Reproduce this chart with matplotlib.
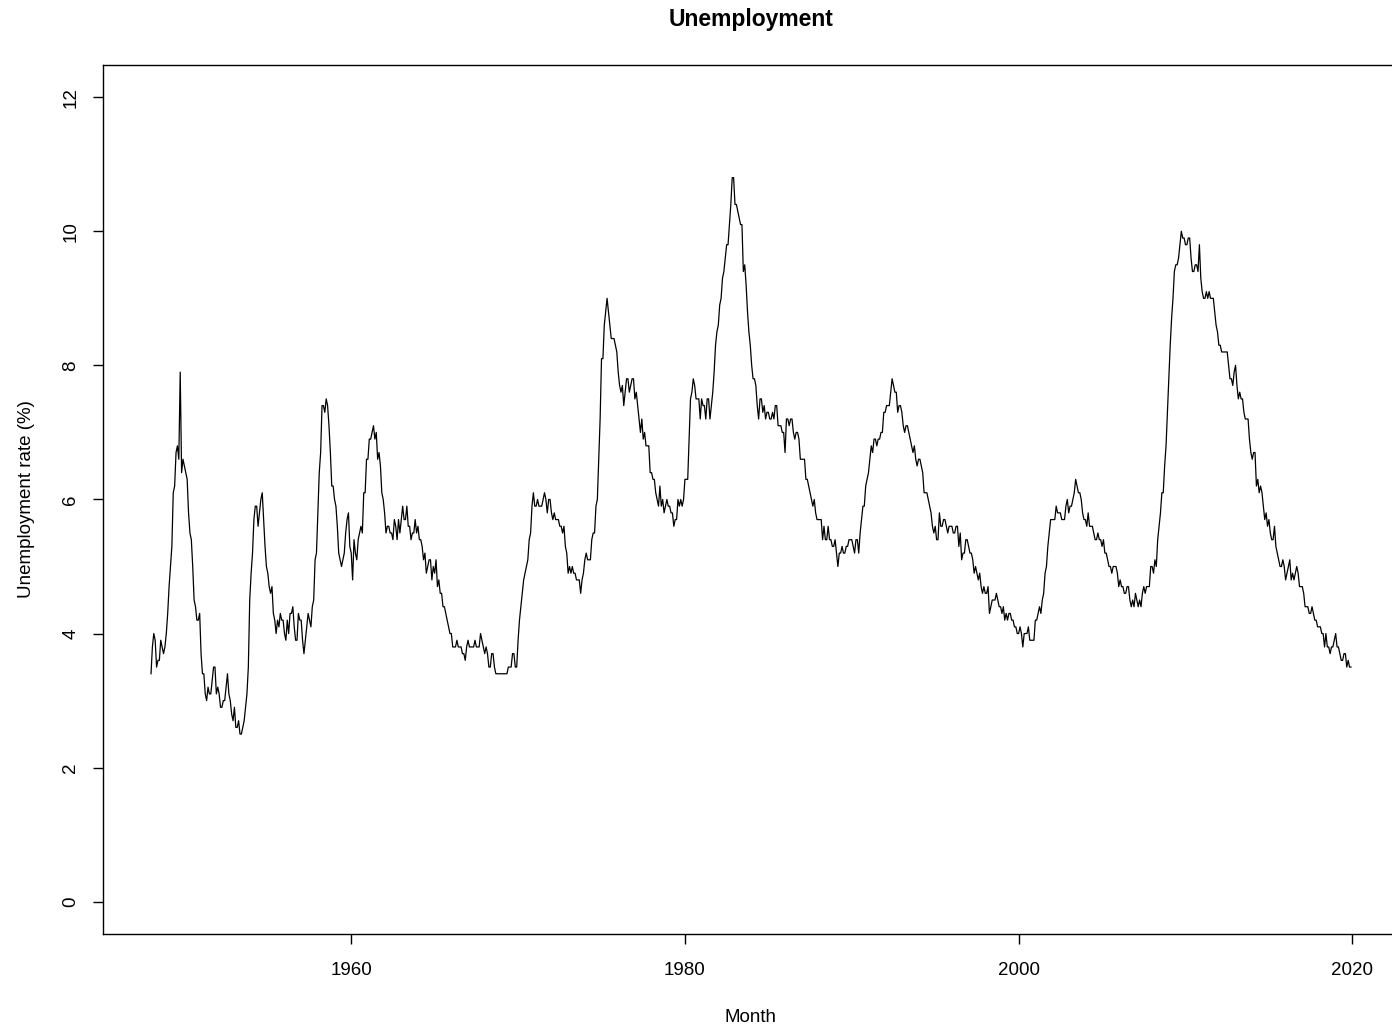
import numpy as np
import matplotlib.pyplot as plt

plt.rcParams['font.family'] = ['Liberation Sans', 'DejaVu Sans']

# monthly unemployment rate (%), Jan 1948 .. Dec 2019
rate_1940s = [
    3.4, 3.8, 4.0, 3.9, 3.5, 3.6, 3.6, 3.9, 3.8, 3.7, 3.8, 4.0,
    4.3, 4.7, 5.0, 5.3, 6.1, 6.2, 6.7, 6.8, 6.6, 7.9, 6.4, 6.6,
]
rate_1950s = [
    6.5, 6.4, 6.3, 5.8, 5.5, 5.4, 5.0, 4.5, 4.4, 4.2, 4.2, 4.3,
    3.7, 3.4, 3.4, 3.1, 3.0, 3.2, 3.1, 3.1, 3.3, 3.5, 3.5, 3.1,
    3.2, 3.1, 2.9, 2.9, 3.0, 3.0, 3.2, 3.4, 3.1, 3.0, 2.8, 2.7,
    2.9, 2.6, 2.6, 2.7, 2.5, 2.5, 2.6, 2.7, 2.9, 3.1, 3.5, 4.5,
    4.9, 5.2, 5.7, 5.9, 5.9, 5.6, 5.8, 6.0, 6.1, 5.7, 5.3, 5.0,
    4.9, 4.7, 4.6, 4.7, 4.3, 4.2, 4.0, 4.2, 4.1, 4.3, 4.2, 4.2,
    4.0, 3.9, 4.2, 4.0, 4.3, 4.3, 4.4, 4.1, 3.9, 3.9, 4.3, 4.2,
    4.2, 3.9, 3.7, 3.9, 4.1, 4.3, 4.2, 4.1, 4.4, 4.5, 5.1, 5.2,
    5.8, 6.4, 6.7, 7.4, 7.4, 7.3, 7.5, 7.4, 7.1, 6.7, 6.2, 6.2,
    6.0, 5.9, 5.6, 5.2, 5.1, 5.0, 5.1, 5.2, 5.5, 5.7, 5.8, 5.3,
]
rate_1960s = [
    5.2, 4.8, 5.4, 5.2, 5.1, 5.4, 5.5, 5.6, 5.5, 6.1, 6.1, 6.6,
    6.6, 6.9, 6.9, 7.0, 7.1, 6.9, 7.0, 6.6, 6.7, 6.5, 6.1, 6.0,
    5.8, 5.5, 5.6, 5.6, 5.5, 5.5, 5.4, 5.7, 5.6, 5.4, 5.7, 5.5,
    5.7, 5.9, 5.7, 5.7, 5.9, 5.6, 5.6, 5.4, 5.5, 5.5, 5.7, 5.5,
    5.6, 5.4, 5.4, 5.3, 5.1, 5.2, 4.9, 5.0, 5.1, 5.1, 4.8, 5.0,
    4.9, 5.1, 4.7, 4.8, 4.6, 4.6, 4.4, 4.4, 4.3, 4.2, 4.1, 4.0,
    4.0, 3.8, 3.8, 3.8, 3.9, 3.8, 3.8, 3.8, 3.7, 3.7, 3.6, 3.8,
    3.9, 3.8, 3.8, 3.8, 3.8, 3.9, 3.8, 3.8, 3.8, 4.0, 3.9, 3.8,
    3.7, 3.8, 3.7, 3.5, 3.5, 3.7, 3.7, 3.5, 3.4, 3.4, 3.4, 3.4,
    3.4, 3.4, 3.4, 3.4, 3.4, 3.5, 3.5, 3.5, 3.7, 3.7, 3.5, 3.5,
]
rate_1970s = [
    3.9, 4.2, 4.4, 4.6, 4.8, 4.9, 5.0, 5.1, 5.4, 5.5, 5.9, 6.1,
    5.9, 5.9, 6.0, 5.9, 5.9, 5.9, 6.0, 6.1, 6.0, 5.8, 6.0, 6.0,
    5.8, 5.7, 5.8, 5.7, 5.7, 5.7, 5.6, 5.6, 5.5, 5.6, 5.3, 5.2,
    4.9, 5.0, 4.9, 5.0, 4.9, 4.9, 4.8, 4.8, 4.8, 4.6, 4.8, 4.9,
    5.1, 5.2, 5.1, 5.1, 5.1, 5.4, 5.5, 5.5, 5.9, 6.0, 6.6, 7.2,
    8.1, 8.1, 8.6, 8.8, 9.0, 8.8, 8.6, 8.4, 8.4, 8.4, 8.3, 8.2,
    7.9, 7.7, 7.6, 7.7, 7.4, 7.6, 7.8, 7.8, 7.6, 7.7, 7.8, 7.8,
    7.5, 7.6, 7.4, 7.2, 7.0, 7.2, 6.9, 7.0, 6.8, 6.8, 6.8, 6.4,
    6.4, 6.3, 6.3, 6.1, 6.0, 5.9, 6.2, 5.9, 6.0, 5.8, 5.9, 6.0,
    5.9, 5.9, 5.8, 5.8, 5.6, 5.7, 5.7, 6.0, 5.9, 6.0, 5.9, 6.0,
]
rate_1980s = [
    6.3, 6.3, 6.3, 6.9, 7.5, 7.6, 7.8, 7.7, 7.5, 7.5, 7.5, 7.2,
    7.5, 7.4, 7.4, 7.2, 7.5, 7.5, 7.2, 7.4, 7.6, 7.9, 8.3, 8.5,
    8.6, 8.9, 9.0, 9.3, 9.4, 9.6, 9.8, 9.8, 10.1, 10.4, 10.8, 10.8,
    10.4, 10.4, 10.3, 10.2, 10.1, 10.1, 9.4, 9.5, 9.2, 8.8, 8.5, 8.3,
    8.0, 7.8, 7.8, 7.7, 7.4, 7.2, 7.5, 7.5, 7.3, 7.4, 7.2, 7.3,
    7.3, 7.2, 7.2, 7.3, 7.2, 7.4, 7.4, 7.1, 7.1, 7.1, 7.0, 7.0,
    6.7, 7.2, 7.2, 7.1, 7.2, 7.2, 7.0, 6.9, 7.0, 7.0, 6.9, 6.6,
    6.6, 6.6, 6.6, 6.3, 6.3, 6.2, 6.1, 6.0, 5.9, 6.0, 5.8, 5.7,
    5.7, 5.7, 5.7, 5.4, 5.6, 5.4, 5.4, 5.6, 5.4, 5.4, 5.3, 5.3,
    5.4, 5.2, 5.0, 5.2, 5.2, 5.3, 5.2, 5.2, 5.3, 5.3, 5.4, 5.4,
]
rate_1990s = [
    5.4, 5.3, 5.2, 5.4, 5.4, 5.2, 5.5, 5.7, 5.9, 5.9, 6.2, 6.3,
    6.4, 6.6, 6.8, 6.7, 6.9, 6.9, 6.8, 6.9, 6.9, 7.0, 7.0, 7.3,
    7.3, 7.4, 7.4, 7.4, 7.6, 7.8, 7.7, 7.6, 7.6, 7.3, 7.4, 7.4,
    7.3, 7.1, 7.0, 7.1, 7.1, 7.0, 6.9, 6.8, 6.7, 6.8, 6.6, 6.5,
    6.6, 6.6, 6.5, 6.4, 6.1, 6.1, 6.1, 6.0, 5.9, 5.8, 5.6, 5.5,
    5.6, 5.4, 5.4, 5.8, 5.6, 5.6, 5.7, 5.7, 5.6, 5.5, 5.6, 5.6,
    5.6, 5.5, 5.5, 5.6, 5.6, 5.3, 5.5, 5.1, 5.2, 5.2, 5.4, 5.4,
    5.3, 5.2, 5.2, 5.1, 4.9, 5.0, 4.9, 4.8, 4.9, 4.7, 4.6, 4.7,
    4.6, 4.6, 4.7, 4.3, 4.4, 4.5, 4.5, 4.5, 4.6, 4.5, 4.4, 4.4,
    4.3, 4.4, 4.2, 4.3, 4.2, 4.3, 4.3, 4.2, 4.2, 4.1, 4.1, 4.0,
]
rate_2000s = [
    4.0, 4.1, 4.0, 3.8, 4.0, 4.0, 4.0, 4.1, 3.9, 3.9, 3.9, 3.9,
    4.2, 4.2, 4.3, 4.4, 4.3, 4.5, 4.6, 4.9, 5.0, 5.3, 5.5, 5.7,
    5.7, 5.7, 5.7, 5.9, 5.8, 5.8, 5.8, 5.7, 5.7, 5.7, 5.9, 6.0,
    5.8, 5.9, 5.9, 6.0, 6.1, 6.3, 6.2, 6.1, 6.1, 6.0, 5.8, 5.7,
    5.7, 5.6, 5.8, 5.6, 5.6, 5.6, 5.5, 5.4, 5.4, 5.5, 5.4, 5.4,
    5.3, 5.4, 5.2, 5.2, 5.1, 5.0, 5.0, 4.9, 5.0, 5.0, 5.0, 4.9,
    4.7, 4.8, 4.7, 4.7, 4.6, 4.6, 4.7, 4.7, 4.5, 4.4, 4.5, 4.4,
    4.6, 4.5, 4.4, 4.5, 4.4, 4.6, 4.7, 4.6, 4.7, 4.7, 4.7, 5.0,
    5.0, 4.9, 5.1, 5.0, 5.4, 5.6, 5.8, 6.1, 6.1, 6.5, 6.8, 7.3,
    7.8, 8.3, 8.7, 9.0, 9.4, 9.5, 9.5, 9.6, 9.8, 10.0, 9.9, 9.9,
]
rate_2010s = [
    9.8, 9.8, 9.9, 9.9, 9.6, 9.4, 9.4, 9.5, 9.5, 9.4, 9.8, 9.3,
    9.1, 9.0, 9.0, 9.1, 9.0, 9.1, 9.0, 9.0, 9.0, 8.8, 8.6, 8.5,
    8.3, 8.3, 8.2, 8.2, 8.2, 8.2, 8.2, 8.0, 7.8, 7.8, 7.7, 7.9,
    8.0, 7.7, 7.5, 7.6, 7.5, 7.5, 7.3, 7.2, 7.2, 7.2, 6.9, 6.7,
    6.6, 6.7, 6.7, 6.2, 6.3, 6.1, 6.2, 6.1, 5.9, 5.7, 5.8, 5.6,
    5.7, 5.5, 5.4, 5.4, 5.6, 5.3, 5.2, 5.1, 5.0, 5.0, 5.1, 5.0,
    4.8, 4.9, 5.0, 5.1, 4.8, 4.9, 4.8, 4.9, 5.0, 4.9, 4.7, 4.7,
    4.7, 4.6, 4.4, 4.4, 4.4, 4.3, 4.3, 4.4, 4.3, 4.2, 4.2, 4.1,
    4.1, 4.1, 4.0, 4.0, 3.8, 4.0, 3.8, 3.8, 3.7, 3.8, 3.8, 3.9,
    4.0, 3.8, 3.8, 3.7, 3.6, 3.6, 3.7, 3.7, 3.5, 3.6, 3.5, 3.5,
]

start_year = 1948
x_ticks = [1960, 1980, 2000, 2020]
y_ticks = [0, 2, 4, 6, 8, 10, 12]

rate = np.array(rate_1940s + rate_1950s + rate_1960s + rate_1970s
                + rate_1980s + rate_1990s + rate_2000s + rate_2010s)
month = start_year + np.arange(len(rate)) / 12.0

fig = plt.figure(figsize=(13.92, 10.24), dpi=100)
# the plot box runs a little past the right edge of the image (cropped, like the original)
ax = fig.add_axes([0.074, 0.088, 0.931, 0.8485])

ax.plot(month, rate, color='black', linewidth=0.9)

# R-style 4% padding on both axes
xr = month[-1] - month[0]
ax.set_xlim(month[0] - 0.04 * xr, month[-1] + 0.04 * xr)
ax.set_ylim(-0.48, 12.48)

ax.set_xticks(x_ticks)
ax.set_yticks(y_ticks)
ax.set_yticklabels([str(v) for v in y_ticks], rotation=90, va='center')
ax.tick_params(direction='out', length=7, width=1, labelsize=13.5)
ax.tick_params(axis='x', pad=13)
ax.tick_params(axis='y', pad=10)

for s in ax.spines.values():
    s.set_linewidth(1)

ax.set_title('Unemployment', fontsize=16.5, fontweight='bold', pad=28)
ax.set_xlabel('Month', fontsize=13.5, labelpad=22)
ax.set_ylabel('Unemployment rate (%)', fontsize=13.5, labelpad=20)

fig.savefig('out.png', dpi=100)
